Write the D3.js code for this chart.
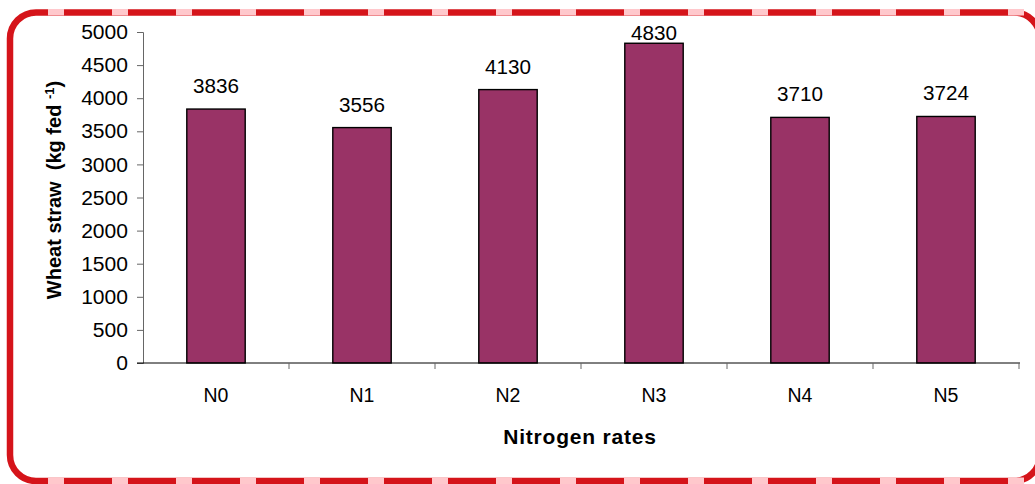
<!DOCTYPE html>
<html>
<head>
<meta charset="utf-8">
<script src="https://cdn.jsdelivr.net/npm/d3@7"></script>
<style>
  body { margin: 0; background: #fff; }
  svg { display: block; }
  text { font-family: "Liberation Sans", Arial, sans-serif; fill: #000; }
</style>
</head>
<body>
<svg id="chart" width="1035" height="484"></svg>
<script>
// data
const rates = ["N0", "N1", "N2", "N3", "N4", "N5"];
const straw = [3836, 3556, 4130, 4830, 3710, 3724];
const yTicks = [0, 500, 1000, 1500, 2000, 2500, 3000, 3500, 4000, 4500, 5000];

const svg = d3.select('#chart');

// digits in the picture run a bit wide
const stretch = (sel, k) => sel.each(function() {
    const w = this.getComputedTextLength();
    d3.select(this).attr('textLength', w * k).attr('lengthAdjust', 'spacingAndGlyphs');
});

// frame: solid red, pink gaps on the top and bottom edges
svg.append('rect')
   .attr('x', 10).attr('y', 12.5)
   .attr('width', 1030).attr('height', 468.5)
   .attr('rx', 26).attr('ry', 26)
   .attr('fill', 'none')
   .attr('stroke', '#d5141a')
   .attr('stroke-width', 6.5);
const gaps = d3.range(0, 16).map(k => 48 + k * 64);
svg.append('g').selectAll('rect')
   .data(gaps.flatMap(g => [[g, 9.5], [g, 478]]))
   .join('rect')
   .attr('x', d => d[0]).attr('y', d => d[1] - 0.5)
   .attr('width', 16).attr('height', 6.5)
   .attr('fill', '#ffc8cc');

// scales
const x = d3.scaleBand()
            .domain(rates)
            .range([143, 1019])
            .paddingInner(0.6)
            .paddingOuter(0.3);
const y = d3.scaleLinear()
            .domain([0, 5000])
            .range([363, 32]);

// y axis
const yAxisG = svg.append('g').attr('transform', 'translate(143,0)');
yAxisG.call(d3.axisLeft(y).tickValues(yTicks).tickSize(6).tickPadding(9).tickFormat(d3.format('d')));
yAxisG.select('.domain').attr('stroke', '#666');
yAxisG.selectAll('.tick line').attr('stroke', '#666');
yAxisG.selectAll('.tick text')
      .style('font-size', '19.5px')
      .style('font-family', '"Liberation Sans", Arial, sans-serif')
      .attr('fill', '#000')
      .attr('dy', '0.34em')
      .call(stretch, 1.08);

// bars
svg.append('g').selectAll('rect')
   .data(straw)
   .join('rect')
   .attr('x', (d, i) => x(rates[i]))
   .attr('y', d => y(d))
   .attr('width', x.bandwidth())
   .attr('height', d => y(0) - y(d))
   .attr('fill', '#993366')
   .attr('stroke', '#000')
   .attr('stroke-width', 1.4);

// x axis
const step = x.step();
const bounds = d3.range(1, rates.length + 1).map(i => 143 + i * step);
const xAxisG = svg.append('g');
xAxisG.append('line')
      .attr('x1', 137).attr('x2', 1020)
      .attr('y1', y(0)).attr('y2', y(0))
      .attr('stroke', '#000');
xAxisG.selectAll('line.tk')
      .data(bounds)
      .join('line')
      .attr('class', 'tk')
      .attr('x1', d => d).attr('x2', d => d)
      .attr('y1', y(0)).attr('y2', y(0) + 6)
      .attr('stroke', '#666');
xAxisG.selectAll('text')
      .data(rates)
      .join('text')
      .attr('x', d => x(d) + x.bandwidth() / 2)
      .attr('y', 402)
      .attr('text-anchor', 'middle')
      .style('font-size', '19.5px')
      .text(d => d);

// value labels, kept inside the plot area like the original
svg.append('g').selectAll('text')
   .data(straw)
   .join('text')
   .attr('x', (d, i) => x(rates[i]) + x.bandwidth() / 2)
   .attr('y', d => Math.max(y(d) - 16, 39.5))
   .attr('text-anchor', 'middle')
   .style('font-size', '19.5px')
   .text(d => d)
   .call(stretch, 1.06);

// axis titles
svg.append('text')
   .attr('x', 580).attr('y', 444)
   .attr('text-anchor', 'middle')
   .style('font-size', '21px')
   .style('font-weight', 'bold')
   .style('letter-spacing', '0.8px')
   .text('Nitrogen rates');

const yt = svg.append('text')
   .attr('transform', 'translate(61,190) rotate(-90)')
   .attr('text-anchor', 'middle')
   .style('font-size', '20px')
   .style('font-weight', 'bold')
   .style('white-space', 'pre');
yt.append('tspan').text('Wheat straw  (kg fed ');
yt.append('tspan').attr('dy', -7).style('font-size', '13px').text('-1');
yt.append('tspan').attr('dy', 7).text(')');
</script>
</body>
</html>
